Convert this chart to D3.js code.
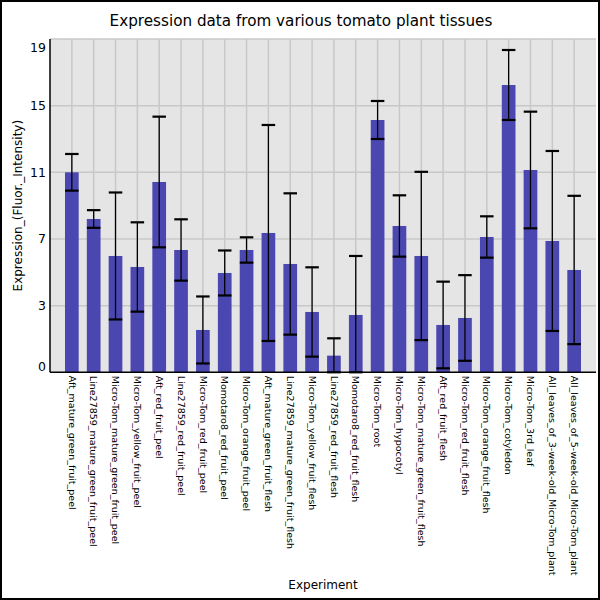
<!DOCTYPE html>
<html lang="en">
<head>
<meta charset="UTF-8">
<title>Expression data from various tomato plant tissues</title>
<script src="https://d3js.org/d3.v7.min.js"></script>
<style>
  body { margin: 0; background: white; }
  text { font-family: "DejaVu Sans", sans-serif; fill: black; }
</style>
</head>
<body>
<svg width="600" height="600"></svg>
<script>
// tissues on the x axis
const tissues = [
  "Aft_mature_green_fruit_peel",
  "Line27859_mature_green_fruit_peel",
  "Micro-Tom_mature_green_fruit_peel",
  "Micro-Tom_yellow_fruit_peel",
  "Aft_red_fruit_peel",
  "Line27859_red_fruit_peel",
  "Micro-Tom_red_fruit_peel",
  "Momotaro8_red_fruit_peel",
  "Micro-Tom_orange_fruit_peel",
  "Aft_mature_green_fruit_flesh",
  "Line27859_mature_green_fruit_flesh",
  "Micro-Tom_yellow_fruit_flesh",
  "Line27859_red_fruit_flesh",
  "Momotaro8_red_fruit_flesh",
  "Micro-Tom_root",
  "Micro-Tom_hypocotyl",
  "Micro-Tom_mature_green_fruit_flesh",
  "Aft_red_fruit_flesh",
  "Micro-Tom_red_fruit_flesh",
  "Micro-Tom_orange_fruit_flesh",
  "Micro-Tom_cotyledon",
  "Micro-Tom_3rd_leaf",
  "All_leaves_of_3-week-old_Micro-Tom_plant",
  "All_leaves_of_5-week-old_Micro-Tom_plant"
];
// mean expression and error (sd)
const means = [11.0, 8.2, 5.98, 5.32, 10.42, 6.34, 1.54, 4.96, 6.34, 7.36, 5.5, 2.62,
               0.0, 2.44, 14.14, 7.78, 5.98, 1.84, 2.26, 7.12, 16.24, 11.14, 6.88, 5.14];
const errors = [1.1, 0.53, 3.81, 2.68, 3.92, 1.84, 2.01, 1.35, 0.76, 6.48, 4.24, 2.68,
                1.04, 3.54, 1.14, 1.84, 5.05, 2.6, 2.57, 1.24, 2.1, 3.5, 5.4, 4.45];
const yTickValues = [-1, 3, 7, 11, 15, 19];
const yTickLabels = ["0", "3", "7", "11", "15", "19"];
const yGrid = [3, 7, 11, 15];

const svg = d3.select("svg");
const pLeft = 50, pRight = 596, pTop = 39, pBottom = 372.3;

var x = d3.scaleLinear().domain([0, tissues.length + 1]).range([pLeft, pRight]);
var y = d3.scaleLinear().domain([-1, 19]).range([pBottom, pTop]);
const barW = 13.7, capW = 13.5;

// outer frame
svg.append("rect").attr("x", 1).attr("y", 1).attr("width", 598).attr("height", 598)
  .attr("fill", "white").attr("stroke", "black").attr("stroke-width", 2);

// plot background
svg.append("rect").attr("x", pLeft).attr("y", pTop)
  .attr("width", pRight - pLeft).attr("height", pBottom - pTop).attr("fill", "#e5e5e5");

// grid
const grid = svg.append("g").attr("stroke", "#c8c8c8").attr("stroke-width", 1.5);
grid.selectAll("line.v").data(tissues).enter().append("line")
  .attr("x1", (d, i) => x(i + 1)).attr("x2", (d, i) => x(i + 1))
  .attr("y1", pTop).attr("y2", pBottom);
grid.selectAll("line.h").data(yGrid.concat([19])).enter().append("line")
  .attr("x1", pLeft).attr("x2", pRight)
  .attr("y1", d => y(d)).attr("y2", d => y(d));

// bars
svg.append("g").selectAll("rect").data(means).enter().append("rect")
  .attr("x", (d, i) => x(i + 1) - barW / 2)
  .attr("y", d => y(d))
  .attr("width", barW)
  .attr("height", d => y(-1) - y(d))
  .attr("fill", "#4b47b1");

// error bars
const lo = (d, i) => Math.max(d - errors[i], -1);
const hi = (d, i) => Math.min(d + errors[i], 19);
const eb = svg.append("g").attr("stroke", "black");
eb.selectAll("line.stem").data(means).enter().append("line")
  .attr("x1", (d, i) => x(i + 1)).attr("x2", (d, i) => x(i + 1))
  .attr("y1", (d, i) => y(lo(d, i))).attr("y2", (d, i) => y(hi(d, i)))
  .attr("stroke-width", 1.3);
eb.selectAll("line.cap-hi").data(means).enter().append("line")
  .attr("x1", (d, i) => x(i + 1) - capW / 2).attr("x2", (d, i) => x(i + 1) + capW / 2)
  .attr("y1", (d, i) => y(hi(d, i))).attr("y2", (d, i) => y(hi(d, i)))
  .attr("stroke-width", 2.2);
eb.selectAll("line.cap-lo").data(means).enter().append("line")
  .attr("x1", (d, i) => x(i + 1) - capW / 2).attr("x2", (d, i) => x(i + 1) + capW / 2)
  .attr("y1", (d, i) => y(lo(d, i))).attr("y2", (d, i) => y(lo(d, i)))
  .attr("stroke-width", 2.2);

// axes lines
svg.append("line").attr("x1", pLeft).attr("x2", pLeft).attr("y1", pTop).attr("y2", pBottom)
  .attr("stroke", "black").attr("stroke-width", 1.5);
svg.append("line").attr("x1", pLeft).attr("x2", pRight).attr("y1", pBottom).attr("y2", pBottom)
  .attr("stroke", "black").attr("stroke-width", 1.5);

// y tick labels
svg.append("g").selectAll("text").data(yTickValues).enter().append("text")
  .attr("x", pLeft - 4)
  .attr("y", d => y(d))
  .attr("dy", (d, i) => i == 0 ? "-0.1em" : (i == yTickValues.length - 1 ? "1.05em" : "0.35em"))
  .attr("text-anchor", "end")
  .style("font-size", "12.5px")
  .text((d, i) => yTickLabels[i]);

// x tick labels
svg.append("g").selectAll("text").data(tissues).enter().append("text")
  .attr("transform", (d, i) => "translate(" + x(i + 1) + "," + (pBottom + 3.5) + ") rotate(90)")
  .attr("dy", "0.35em")
  .attr("text-anchor", "start")
  .style("font-size", "9.5px")
  .text(d => d);

// titles
svg.append("text").attr("x", 301).attr("y", 26).attr("text-anchor", "middle")
  .style("font-size", "15.2px").text("Expression data from various tomato plant tissues");
svg.append("text").attr("transform", "translate(22," + ((pTop + pBottom) / 2) + ") rotate(-90)")
  .attr("text-anchor", "middle").style("font-size", "12px")
  .text("Expression_(Fluor._Intensity)");
svg.append("text").attr("x", (pLeft + pRight) / 2).attr("y", 589).attr("text-anchor", "middle")
  .style("font-size", "12px").text("Experiment");
</script>
</body>
</html>
